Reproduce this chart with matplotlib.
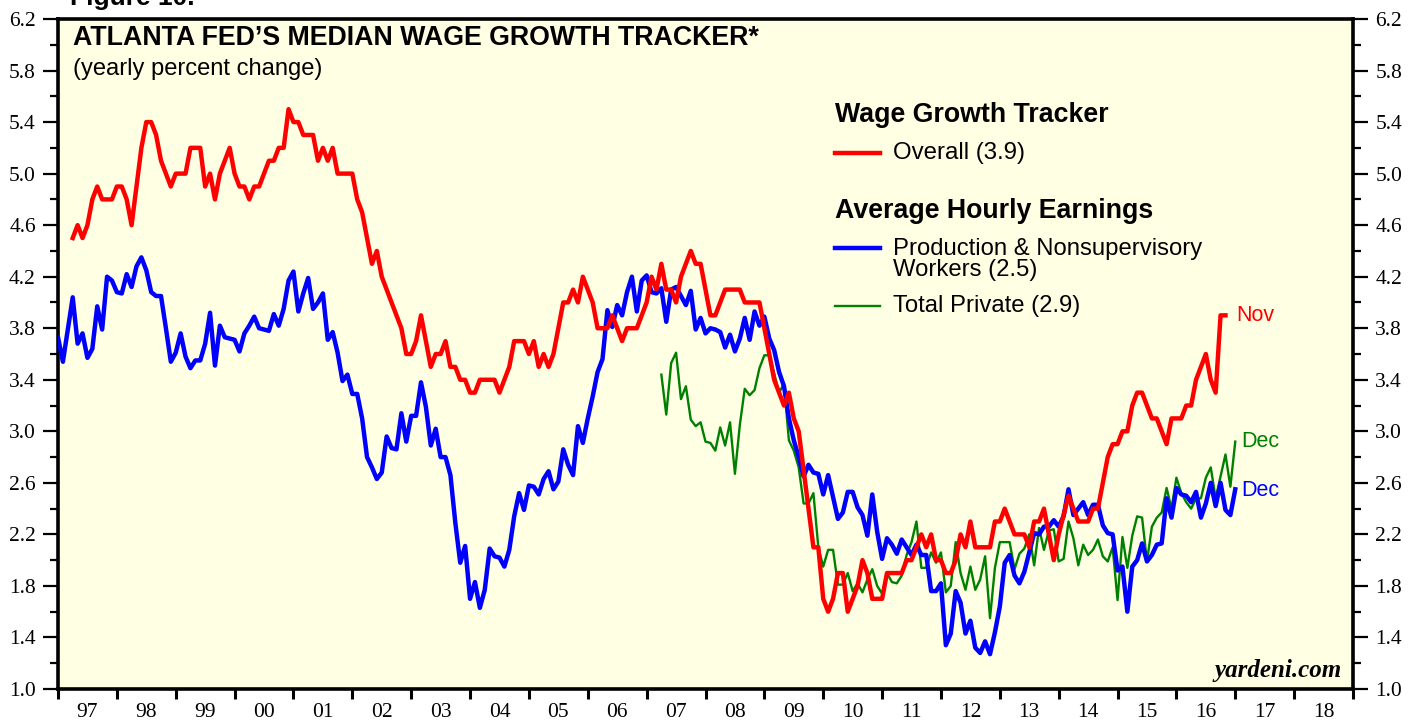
import matplotlib
matplotlib.use("Agg")
import matplotlib.pyplot as plt
import numpy as np

# monthly series, index m -> year 1997 + m/12
red_start = 3      # wage growth tracker starts m=3
blue_start = 0
green_start = 123

red = [
    4.5, 4.6, 4.5, 4.6, 4.8, 4.9, 4.8, 4.8, 4.8, 4.9,
    4.9, 4.8, 4.6, 4.9, 5.2, 5.4, 5.4, 5.3, 5.1, 5.0,
    4.9, 5.0, 5.0, 5.0, 5.2, 5.2, 5.2, 4.9, 5.0, 4.8,
    5.0, 5.1, 5.2, 5.0, 4.9, 4.9, 4.8, 4.9, 4.9, 5.0,
    5.1, 5.1, 5.2, 5.2, 5.5, 5.4, 5.4, 5.3, 5.3, 5.3,
    5.1, 5.2, 5.1, 5.2, 5.0, 5.0, 5.0, 5.0, 4.8, 4.7,
    4.5, 4.3, 4.4, 4.2, 4.1, 4.0, 3.9, 3.8, 3.6, 3.6,
    3.7, 3.9, 3.7, 3.5, 3.6, 3.6, 3.7, 3.5, 3.5, 3.4,
    3.4, 3.3, 3.3, 3.4, 3.4, 3.4, 3.4, 3.3, 3.4, 3.5,
    3.7, 3.7, 3.7, 3.6, 3.7, 3.5, 3.6, 3.5, 3.6, 3.8,
    4.0, 4.0, 4.1, 4.0, 4.2, 4.1, 4.0, 3.8, 3.8, 3.8,
    3.9, 3.8, 3.7, 3.8, 3.8, 3.8, 3.9, 4.0, 4.2, 4.1,
    4.3, 4.1, 4.1, 4.0, 4.2, 4.3, 4.4, 4.3, 4.3, 4.1,
    3.9, 3.9, 4.0, 4.1, 4.1, 4.1, 4.1, 4.0, 4.0, 4.0,
    4.0, 3.8, 3.6, 3.4, 3.3, 3.2, 3.3, 3.1, 3.0, 2.7,
    2.4, 2.1, 2.1, 1.7, 1.6, 1.7, 1.9, 1.9, 1.6, 1.7,
    1.8, 2.0, 1.9, 1.7, 1.7, 1.7, 1.9, 1.9, 1.9, 1.9,
    2.0, 2.0, 2.1, 2.2, 2.1, 2.2, 2.0, 2.0, 1.9, 1.9,
    2.0, 2.2, 2.1, 2.3, 2.1, 2.1, 2.1, 2.1, 2.3, 2.3,
    2.4, 2.3, 2.2, 2.2, 2.2, 2.1, 2.3, 2.3, 2.4, 2.2,
    2.0, 2.2, 2.35, 2.5, 2.4, 2.3, 2.3, 2.3, 2.4, 2.4,
    2.6, 2.8, 2.9, 2.9, 3.0, 3.0, 3.2, 3.3, 3.3, 3.2,
    3.1, 3.1, 3.0, 2.9, 3.1, 3.1, 3.1, 3.2, 3.2, 3.4,
    3.5, 3.6, 3.4, 3.3, 3.9, 3.9,
]

blue = [
    3.73, 3.54, 3.79, 4.04, 3.68, 3.76, 3.57, 3.64, 3.97, 3.79,
    4.20, 4.17, 4.08, 4.07, 4.22, 4.12, 4.28, 4.35, 4.25, 4.08,
    4.05, 4.05, 3.80, 3.54, 3.61, 3.76, 3.58, 3.49, 3.55, 3.55,
    3.68, 3.92, 3.51, 3.82, 3.73, 3.72, 3.71, 3.62, 3.76, 3.82,
    3.89, 3.80, 3.79, 3.78, 3.91, 3.82, 3.95, 4.17, 4.24, 3.93,
    4.07, 4.19, 3.95, 4.00, 4.07, 3.71, 3.77, 3.61, 3.39, 3.44,
    3.29, 3.29, 3.10, 2.80, 2.72, 2.63, 2.68, 2.96, 2.87, 2.86,
    3.14, 2.92, 3.12, 3.12, 3.38, 3.19, 2.89, 3.02, 2.80, 2.80,
    2.66, 2.29, 1.98, 2.11, 1.70, 1.83, 1.63, 1.77, 2.09, 2.03,
    2.02, 1.95, 2.08, 2.34, 2.52, 2.39, 2.58, 2.57, 2.51, 2.63,
    2.69, 2.55, 2.61, 2.86, 2.74, 2.66, 3.04, 2.91, 3.10, 3.27,
    3.46, 3.56, 3.94, 3.81, 3.98, 3.90, 4.08, 4.20, 3.93, 4.17,
    4.21, 4.08, 4.07, 4.11, 3.85, 4.10, 4.12, 4.05, 3.98, 4.09,
    3.79, 3.88, 3.76, 3.80, 3.79, 3.77, 3.65, 3.75, 3.62, 3.72,
    3.88, 3.71, 3.93, 3.82, 3.89, 3.72, 3.63, 3.46, 3.35, 3.10,
    2.93, 2.80, 2.65, 2.74, 2.68, 2.67, 2.51, 2.66, 2.49, 2.32,
    2.37, 2.53, 2.53, 2.41, 2.35, 2.19, 2.51, 2.22, 2.01, 2.17,
    2.12, 2.05, 2.16, 2.10, 2.04, 2.12, 2.04, 2.04, 1.76, 1.76,
    1.82, 1.34, 1.43, 1.76, 1.67, 1.43, 1.53, 1.32, 1.28, 1.37,
    1.27, 1.44, 1.64, 1.98, 2.04, 1.88, 1.82, 1.91, 2.06, 2.21,
    2.20, 2.26, 2.26, 2.31, 2.26, 2.34, 2.55, 2.35, 2.40, 2.45,
    2.35, 2.43, 2.43, 2.27, 2.21, 2.20, 1.92, 1.95, 1.60, 1.95,
    2.00, 2.13, 1.99, 2.04, 2.12, 2.13, 2.48, 2.33, 2.56, 2.51,
    2.50, 2.45, 2.53, 2.33, 2.44, 2.60, 2.42, 2.60, 2.39, 2.35,
    2.55,
]

green = [
    3.44, 3.13, 3.53, 3.61, 3.25, 3.35, 3.09, 3.04, 3.07, 2.92,
    2.91, 2.85, 3.03, 2.89, 3.07, 2.67, 3.05, 3.33, 3.28, 3.32,
    3.49, 3.59, 3.59, 3.45, 3.30, 3.37, 2.93, 2.85, 2.72, 2.44,
    2.44, 2.52, 2.10, 1.95, 2.08, 2.08, 1.81, 1.81, 1.90, 1.76,
    1.82, 1.75, 1.85, 1.93, 1.80, 1.74, 1.90, 1.83, 1.82, 1.88,
    2.04, 2.14, 2.30, 1.94, 1.94, 2.06, 1.98, 2.06, 1.75, 1.80,
    2.14, 1.90, 1.77, 1.95, 1.77, 1.85, 2.03, 1.55, 1.94, 2.14,
    2.14, 2.14, 1.93, 2.05, 2.09, 2.20, 1.96, 2.25, 2.08, 2.23,
    2.24, 1.99, 2.01, 2.30, 2.17, 1.96, 2.12, 2.04, 2.08, 2.16,
    2.03, 1.99, 2.10, 1.69, 2.18, 1.94, 2.19, 2.34, 2.33, 1.99,
    2.26, 2.33, 2.37, 2.56, 2.40, 2.64, 2.52, 2.45, 2.40, 2.48,
    2.48, 2.64, 2.72, 2.48, 2.65, 2.82, 2.57, 2.92,
]

years = list(range(1997, 2020))
year_labels = ["97", "98", "99", "00", "01", "02", "03", "04", "05", "06", "07",
               "08", "09", "10", "11", "12", "13", "14", "15", "16", "17", "18"]

red_t = 1997 + (red_start + np.arange(len(red))) / 12
blue_t = 1997 + (blue_start + np.arange(len(blue))) / 12
green_t = 1997 + (green_start + np.arange(len(green))) / 12

SANS = "Liberation Sans"
SERIF = "Liberation Serif"
RED, BLUE, GREEN = "#ff0000", "#0000ff", "#008000"

fig = plt.figure(figsize=(14.21, 7.21), dpi=100)
ax = fig.add_axes([58 / 1421, 32 / 721, 1295 / 1421, 670 / 721])
ax.set_facecolor("#ffffe4")

ax.plot(green_t, green, color=GREEN, lw=1.7, zorder=3)
ax.plot(blue_t, blue, color=BLUE, lw=3.2, zorder=4)
ax.plot(red_t, red, color=RED, lw=3.2, zorder=5)

ax.set_xlim(1997, 2019)
ax.set_ylim(1.0, 6.2)

# x axis: ticks at year boundaries, labels centred in each year
ax.set_xticks(years)
ax.set_xticklabels([])
ax.set_xticks([y + 0.5 for y in years[:-1]], minor=True)
ax.set_xticklabels(year_labels, minor=True, fontfamily=SERIF, fontsize=15.5)
ax.tick_params(axis="x", which="major", direction="out", length=7, width=2.2)
ax.tick_params(axis="x", which="minor", length=0, pad=10)

yt = np.round(np.arange(1.0, 6.21, 0.4), 1)
ax.set_yticks(yt)
ax.set_yticklabels([f"{v:.1f}" for v in yt], fontfamily=SERIF, fontsize=15.5)
ax.set_yticks(np.round(np.arange(1.2, 6.1, 0.4), 1), minor=True)
ax.tick_params(axis="y", which="both", left=True, right=True,
               labelleft=True, labelright=True, direction="out")
ax.tick_params(axis="y", which="major", length=11, width=1.6, pad=5)
ax.tick_params(axis="y", which="minor", length=6, width=1.6)

for s in ax.spines.values():
    s.set_linewidth(2.6)

# titles
ax.text(0.0116, 0.972, "ATLANTA FED\u2019S MEDIAN WAGE GROWTH TRACKER*", transform=ax.transAxes,
        fontfamily=SANS, fontsize=19.3, fontweight="bold", va="center", ha="left")
ax.text(0.0116, 0.925, "(yearly percent change)", transform=ax.transAxes,
        fontfamily=SANS, fontsize=17.1, va="center", ha="left")

# legend
lx0, lx1, tx = 0.6, 0.635, 0.6448
ax.text(lx0, 0.857, "Wage Growth Tracker", transform=ax.transAxes,
        fontfamily=SANS, fontsize=19.3, fontweight="bold", va="center")
ax.plot([lx0, lx1], [0.800, 0.800], transform=ax.transAxes, color=RED, lw=3.2)
ax.text(tx, 0.800, "Overall (3.9)", transform=ax.transAxes,
        fontfamily=SANS, fontsize=17.3, va="center")
ax.text(lx0, 0.713, "Average Hourly Earnings", transform=ax.transAxes,
        fontfamily=SANS, fontsize=19.3, fontweight="bold", va="center")
ax.plot([lx0, lx1], [0.658, 0.658], transform=ax.transAxes, color=BLUE, lw=3.2)
ax.text(tx, 0.641, "Production & Nonsupervisory\nWorkers (2.5)", transform=ax.transAxes,
        fontfamily=SANS, fontsize=17.2, va="center", linespacing=0.92)
ax.plot([lx0, lx1], [0.5716, 0.5716], transform=ax.transAxes, color=GREEN, lw=1.7)
ax.text(tx, 0.5716, "Total Private (2.9)", transform=ax.transAxes,
        fontfamily=SANS, fontsize=17.2, va="center")

# end-of-line labels
ax.annotate("Nov", xy=(red_t[-1], red[-1]), xytext=(8, 0), textcoords="offset points",
            color=RED, fontfamily=SANS, fontsize=15.5, va="center")
ax.annotate("Dec", xy=(green_t[-1], green[-1]), xytext=(4, 0), textcoords="offset points",
            color=GREEN, fontfamily=SANS, fontsize=15.5, va="center")
ax.annotate("Dec", xy=(blue_t[-1], blue[-1]), xytext=(4, -1), textcoords="offset points",
            color=BLUE, fontfamily=SANS, fontsize=15.5, va="center")

ax.text(0.9915, 0.010, "yardeni.com", transform=ax.transAxes, ha="right", va="bottom",
        fontfamily=SERIF, fontsize=18, fontweight="bold", fontstyle="italic")

# header of the page, cut by the top edge as in the source image
fig.text(70 / 1421, 1 - 5 / 721, "Figure 10.", fontfamily=SANS, fontsize=19,
         fontweight="bold", va="baseline", ha="left")

fig.savefig("out.png", dpi=100, facecolor="white")
